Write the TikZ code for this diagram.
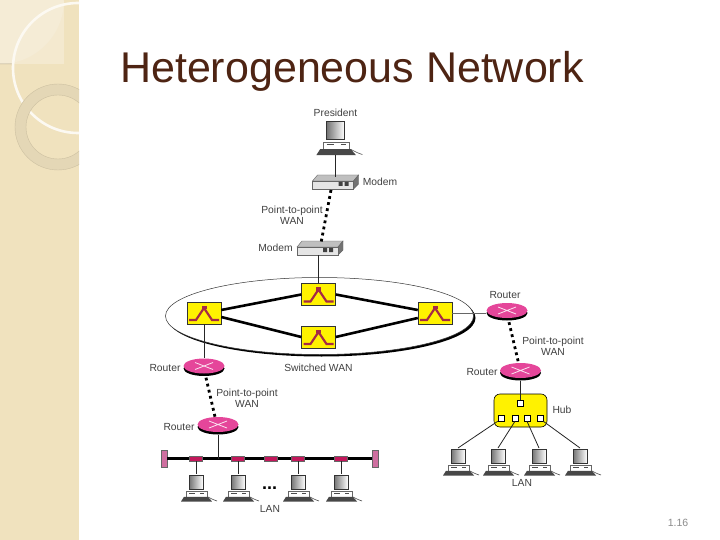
\documentclass[tikz,border=0pt]{standalone}
\usepackage{fontspec}
\setmainfont{Liberation Sans}
\usepackage{xcolor}
\usepackage{tikz}
\usetikzlibrary{arrows.meta, positioning, shapes.geometric, calc}
\definecolor{sidetan}{HTML}{F0E2BE}
\definecolor{sidelight}{HTML}{F5ECD6}
\definecolor{sidering}{HTML}{E4D7B6}
\definecolor{titlebrown}{HTML}{4E2413}
\definecolor{routerpink}{HTML}{E5469A}
\definecolor{swyellow}{HTML}{FFF200}
\definecolor{swred}{HTML}{A52A45}
\definecolor{tapred}{HTML}{C2185B}
\definecolor{capmauve}{HTML}{CF6FA0}
\tikzset{
    lbl/.style={font=\fontsize{10.3}{12}\selectfont, text=black!75, inner sep=0pt, align=center},
    wanlink/.style={line width=2.8pt, dash pattern=on 2.8pt off 3.4pt},
    thinlink/.style={line width=0.8pt, black!85},
    trunk/.style={line width=2.6pt, black},
    swbox/.style={draw=black!80, fill=swyellow, minimum width=34pt, minimum height=22pt, inner sep=0pt, line width=0.5pt},
    tapbox/.style={draw=black!60, fill=tapred, minimum width=13pt, minimum height=5.5pt, inner sep=0pt, line width=0.4pt},
    portbox/.style={draw=black, fill=white, minimum width=6pt, minimum height=6pt, inner sep=0pt, line width=0.5pt},
    endcap/.style={draw=black!60, fill=capmauve, minimum width=6pt, minimum height=17pt, inner sep=0pt},
    computer/.pic={
        \fill[white] (-8,0) rectangle (8,17);
        \shade[left color=black!55, right color=white, draw=black!80, line width=0.9pt] (-7,1) rectangle (7,15);
        \draw[black!60, fill=white, line width=0.4pt] (-10,17) rectangle (11,23);
        \draw[black!70, line width=0.8pt] (-7,19) -- (-1,19) (4,19) -- (8,19);
        \fill[black!72] (-12,22.8) -- (12,22.8) -- (16,27.5) -- (-15,27.5) -- cycle;
        \draw[black!70, line width=0.6pt] (12,23) -- (17,25.5) -- (21,27);
        \coordinate (-n) at (0,0);
        \coordinate (-s) at (0,27.5);
    },
    modem/.pic={
        \draw[black!60, fill=black!25, line width=0.4pt] (-23,-1) -- (-18,-7) -- (23,-7) -- (18,-1) -- cycle;
        \draw[black!60, fill=black!55, line width=0.4pt] (18,-1) -- (23,-7) -- (23,2) -- (18,7) -- cycle;
        \draw[black!60, fill=black!10, line width=0.4pt] (-23,-1) rectangle (18,7);
        \fill[black!75] (3,0) rectangle (7,4) (9,0) rectangle (13,4);
        \coordinate (-n) at (0,-5);
        \coordinate (-s) at (0,7);
    },
    router/.pic={
        \fill[black] (0,2.5) ellipse (20.5pt and 7.5pt);
        \node[ellipse, fill=routerpink, minimum width=41pt, minimum height=15pt, inner sep=0pt] (-b) at (0,0) {};
        \draw[white!85!routerpink, line width=0.8pt] (-9,-3.5) -- (9,3.5) (-9,3.5) -- (9,-3.5);
    },
    wanswitch/.pic={
        \node[swbox] (-b) at (0,0) {};
        \draw[swred, line width=2.2pt, line join=miter] (-15,7) -- (-8,7) -- (0,-5) -- (8,7) -- (15,7);
        \fill[swred] (-2.5,-7.5) rectangle (2.5,-4);
    }
}
\begin{document}
\begin{tikzpicture}[x=1pt, y=-1pt]
    \useasboundingbox (0,0) rectangle (720,540);
    \fill[white] (0,0) rectangle (720,540);

    % -- Side strip ------------------------------------------------
    \begin{scope}
        \clip (0,0) rectangle (79,540);
        \fill[sidetan] (0,0) rectangle (79,540);
        \fill[sidelight!70!sidetan] (0,0) rectangle (64,64);
        \fill[sidelight] (0,0) circle (64pt);
        \draw[black!25!sidetan, line width=0.5pt] (0,64) -- (13,64) (64,0) arc (0:78:64pt);
        \draw[white!80!sidetan, line width=2.6pt] (78,68) circle (65pt);
        \draw[sidering, line width=11pt] (58,127) circle (37.5pt);
        \draw[black!15!sidetan, line width=0.4pt] (58,127) circle (43pt) (58,127) circle (32pt);
    \end{scope}

    % -- Title -----------------------------------------------------
    \node[font=\fontsize{43}{50}\selectfont, text=titlebrown, inner sep=0pt] (title) at (352,71) {Heterogeneous Network};

    % -- Switched WAN ----------------------------------------------
    \fill[black] (321.5,318) ellipse (154pt and 38.5pt);
    \draw[black!80, fill=white, line width=0.5pt] (319.5,316) ellipse (154pt and 38.5pt);

    \pic (swl) at (204,313) {wanswitch};
    \pic (swt) at (318.5,294.5) {wanswitch};
    \pic (swb) at (318.5,337) {wanswitch};
    \pic (swr) at (435,313) {wanswitch};

    \draw[trunk] ([yshift=3pt]swl-b.east) -- (swt-b.west);
    \draw[trunk] ([yshift=-4pt]swl-b.east) -- (swb-b.west);
    \draw[trunk] (swt-b.east) -- ([yshift=3pt]swr-b.west);
    \draw[trunk] (swb-b.east) -- ([yshift=-5pt]swr-b.west);

    \node[lbl] (swlabel) at (318.5,368) {Switched WAN};

    % -- President and modems --------------------------------------
    \pic[scale=1.28] (pres) at (335.5,120) {computer};
    \node[lbl] (preslabel) at (335.5,113) {President};

    \pic (mdma) at (335.5,182) {modem};
    \pic (mdmb) at (320,248) {modem};
    \node[lbl] (mdmalabel) at (380,182) {Modem};
    \node[lbl] (mdmblabel) at (275.5,248) {Modem};
    \node[lbl] (ptpa) at (292,215.5) {Point-to-point\\[-1pt]WAN};

    \draw[thinlink] (pres-s) -- (mdma-n);
    \draw[wanlink] ([xshift=-4.5pt, yshift=-1pt]mdma-s) -- ([xshift=1pt]mdmb-n);
    \draw[thinlink] ([xshift=-1.5pt]mdmb-s) -- (swt-b.north);

    % -- Left branch -----------------------------------------------
    \pic (rtl) at (204,366) {router};
    \pic (rtb) at (218,424.5) {router};
    \node[lbl] (rtllabel) at (165,368) {Router};
    \node[lbl] (rtblabel) at (179,427) {Router};
    \node[lbl] (ptpb) at (247,398) {Point-to-point\\[-1pt]WAN};

    \draw[thinlink] (swl-b.south) -- (rtl-b.north);
    \draw[wanlink] ([yshift=-4pt, xshift=2pt]rtl-b.south) -- ([xshift=-3pt]rtb-b.north);

    % -- Bus LAN ---------------------------------------------------
    \node[endcap] (capl) at (164,458.5) {};
    \node[endcap] (capr) at (375,458.5) {};
    \draw[trunk] (capl) -- (capr);
    \coordinate (busjoin) at (218,458.5);
    \draw[thinlink] ([yshift=-3pt]rtb-b.south) -- (busjoin);

    \foreach \i/\tx in {1/196, 2/238, 3/270.5, 4/298, 5/341}{
        \node[tapbox] (tap\i) at (\tx,458.5) {};
    }
    \foreach \i/\tap/\tx in {1/1/196, 2/2/238, 3/4/298, 4/5/341}{
        \pic (pcb\i) at (\tx,474) {computer};
        \draw[thinlink] (tap\tap.south) -- (pcb\i-n);
    }
    \node[font=\bfseries\fontsize{18}{18}\selectfont, inner sep=0pt] (busdots) at (269.5,488) {...};
    \node[lbl] (lanb) at (270,509) {LAN};

    % -- Right branch ----------------------------------------------
    \pic (rtr) at (507,310.5) {router};
    \pic (rth) at (520.5,370.5) {router};
    \node[lbl] (rtrlabel) at (505,295) {Router};
    \node[lbl] (rthlabel) at (482,372) {Router};
    \node[lbl] (ptpc) at (553,346.5) {Point-to-point\\[-1pt]WAN};

    \draw[thinlink, black!60] (swr-b.east) -- ([yshift=-2.5pt]rtr-b.west);
    \draw[wanlink] ([yshift=-4pt, xshift=2pt]rtr-b.south) -- ([xshift=-2pt]rth-b.north);

    % -- Hub -------------------------------------------------------
    \node[draw=black, fill=swyellow, rounded corners=6pt, minimum width=53pt, minimum height=33pt, inner sep=0pt, line width=0.6pt] (hub) at (520.5,410.5) {};
    \node[portbox] (hubin) at (520.5,403) {};
    \node[lbl] (hublabel) at (562,410) {Hub};
    \draw[thinlink] ([yshift=-3pt]rth-b.south) -- (hubin.north);

    \foreach \i/\px/\cx/\anch in {1/501/458/south west, 2/515/498/south, 3/527/539/south, 4/540/580/south east}{
        \node[portbox] (port\i) at (\px,418) {};
        \pic (pch\i) at (\cx,448) {computer};
        \draw[thinlink] (port\i.\anch) -- (pch\i-n);
    }
    \node[lbl] (lanh) at (522,483) {LAN};

    % -- Page number -----------------------------------------------
    \node[font=\fontsize{10.5}{12}\selectfont, text=black!45, inner sep=0pt] (pagenum) at (678,523) {1.16};
\end{tikzpicture}
\end{document}
